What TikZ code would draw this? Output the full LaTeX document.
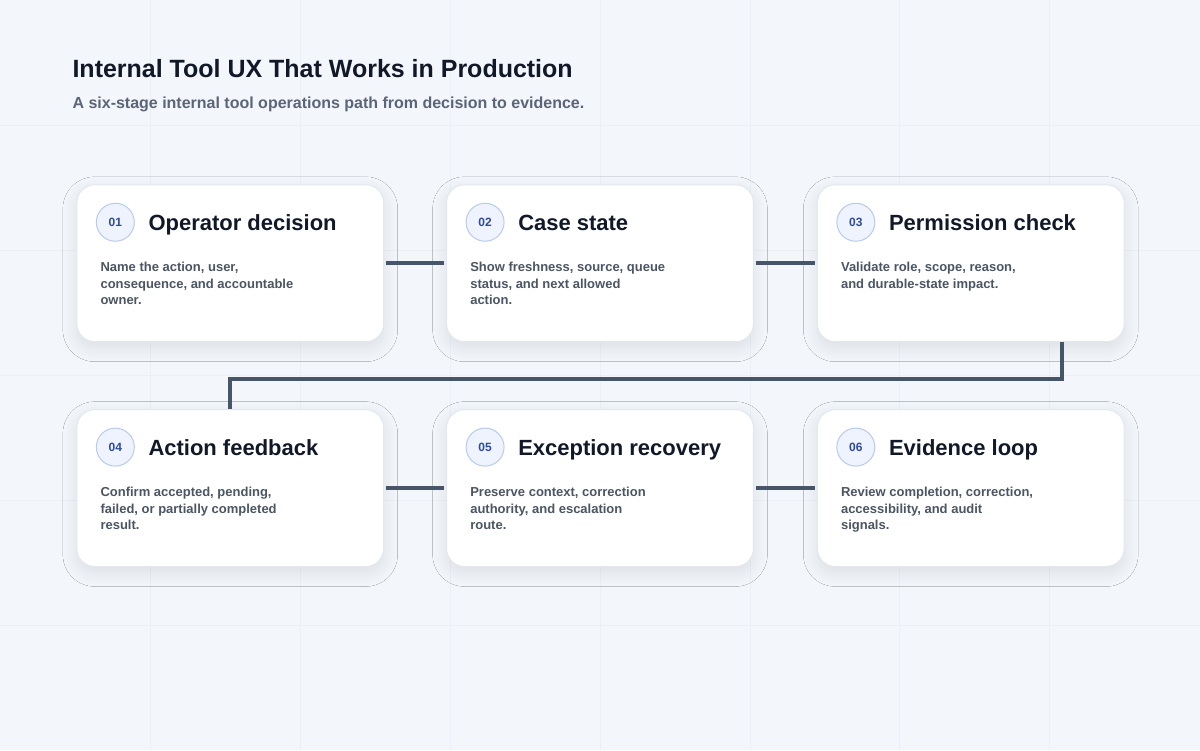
\documentclass[tikz,border=0pt]{standalone}
\usepackage{fontspec}
\setmainfont{Liberation Sans}
\usetikzlibrary{shadows.blur}
\definecolor{bg}{HTML}{F3F6FB}
\definecolor{gridc}{HTML}{ECEFF5}
\definecolor{ink}{HTML}{111827}
\definecolor{sub}{HTML}{5B6577}
\definecolor{body}{HTML}{4B5563}
\definecolor{conn}{HTML}{475569}
\definecolor{badgef}{HTML}{EEF3FD}
\definecolor{badged}{HTML}{B9CBEA}
\definecolor{badget}{HTML}{2F4C9A}
\definecolor{cardd}{HTML}{E3E8F0}
\tikzset{
 card/.style={draw=cardd,line width=1pt,fill=white,rounded corners=18pt,minimum width=307pt,minimum height=157pt,anchor=north west,blur shadow={shadow blur steps=12,shadow blur radius=14pt,shadow xshift=0pt,shadow yshift=-6pt,shadow opacity=10}},
 badge/.style={circle,draw=badged,line width=1pt,fill=badgef,minimum size=38pt,inner sep=0pt,font=\bfseries\fontsize{12}{12}\selectfont,text=badget},
 ttl/.style={anchor=base west,font=\bfseries\fontsize{22}{26}\selectfont,text=ink,inner sep=0pt},
 bodyt/.style={anchor=north west,align=left,font=\bfseries\fontsize{13}{16.5}\selectfont,text=body,inner sep=0pt},
 link/.style={draw=conn,line width=4pt}
}
\begin{document}
\begin{tikzpicture}[x=1pt,y=-1pt]
\fill[bg] (0,0) rectangle (1200,750);
\foreach \x in {150,300,...,1050} \draw[gridc,line width=0.8pt] (\x,0) -- (\x,750);
\foreach \y in {125,250,...,625} \draw[gridc,line width=0.8pt] (0,\y) -- (1200,\y);
\useasboundingbox (0,0) rectangle (1200,750);
\node[anchor=west,inner sep=0pt,font=\bfseries\fontsize{25}{30}\selectfont,text=ink] (t) at (72,68) {Internal Tool UX That Works in Production};
\node[anchor=west,inner sep=0pt,font=\bfseries\fontsize{16}{20}\selectfont,text=sub] (s) at (72,104) {A six-stage internal tool operations path from decision to evidence.};
\foreach \n/\x/\y/\num/\tt/\bb in {
 c1/76/184/01/Operator decision/{Name the action, user,\\consequence, and accountable\\owner.},
 c2/446/184/02/Case state/{Show freshness, source, queue\\status, and next allowed\\action.},
 c3/817/184/03/Permission check/{Validate role, scope, reason,\\and durable-state impact.},
 c4/76/409/04/Action feedback/{Confirm accepted, pending,\\failed, or partially completed\\result.},
 c5/446/409/05/Exception recovery/{Preserve context, correction\\authority, and escalation\\route.},
 c6/817/409/06/Evidence loop/{Review completion, correction,\\accessibility, and audit\\signals.}}{
 \node[card] (\n) at (\x,\y) {};
 \node[badge] (\n b) at (\x+39,\y+38) {\num};
 \node[ttl] (\n t) at (\x+72,\y+46) {\tt};
 \node[bodyt] (\n d) at (\x+24,\y+78) {\bb};
}
\draw[link] ([xshift=2pt]c1.east) -- ([xshift=-2pt]c2.west);
\draw[link] ([xshift=2pt]c2.east) -- ([xshift=-2pt]c3.west);
\draw[link] ([xshift=2pt]c4.east) -- ([xshift=-2pt]c5.west);
\draw[link] ([xshift=2pt]c5.east) -- ([xshift=-2pt]c6.west);
\coordinate (k1) at (1062,379);
\coordinate (k2) at (c4.north |- k1);
\draw[link] (c3.south -| k1) -- (k1) -- (k2) -- (c4.north);
\end{tikzpicture}
\end{document}
